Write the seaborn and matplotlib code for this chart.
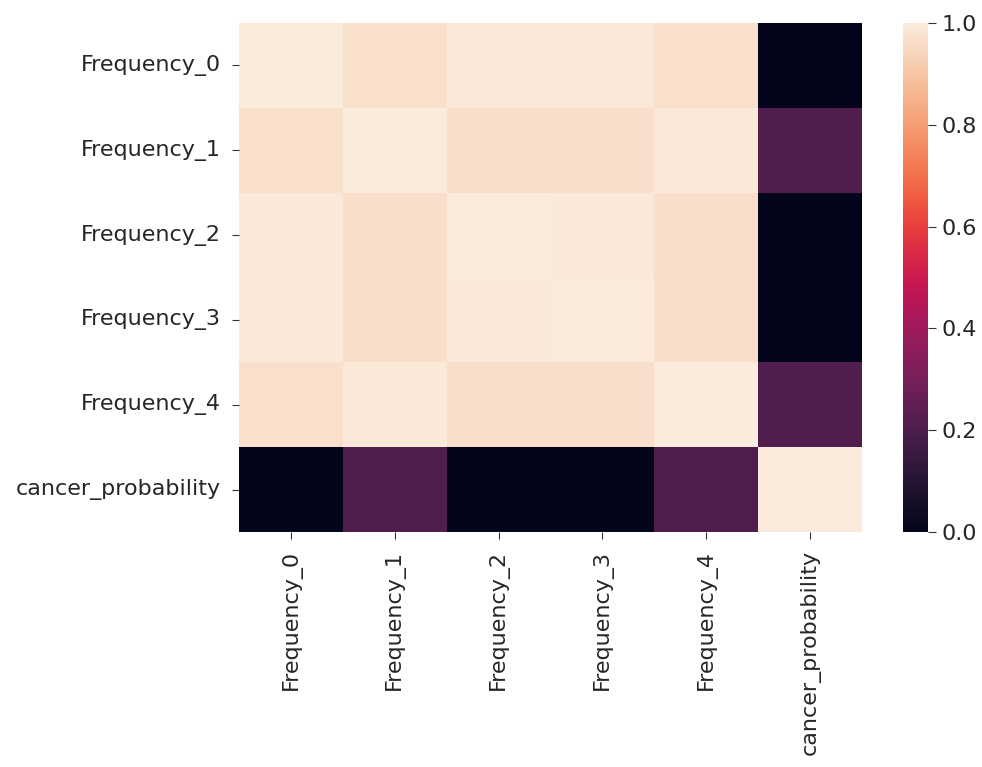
import numpy as np
import pandas as pd
import matplotlib
matplotlib.use("Agg")
import matplotlib.pyplot as plt
import seaborn as sns

labels = ["Frequency_0", "Frequency_1", "Frequency_2", "Frequency_3",
          "Frequency_4", "cancer_probability"]

# correlation matrix rows
row_f0 = [1.000, 0.970, 0.996, 0.990, 0.970, 0.000]
row_f1 = [0.970, 1.000, 0.966, 0.965, 0.991, 0.210]
row_f2 = [0.996, 0.966, 1.000, 0.993, 0.968, 0.001]
row_f3 = [0.990, 0.965, 0.993, 1.000, 0.968, 0.001]
row_f4 = [0.970, 0.991, 0.968, 0.968, 1.000, 0.210]
row_cp = [0.000, 0.210, 0.001, 0.001, 0.210, 1.000]

corr = pd.DataFrame([row_f0, row_f1, row_f2, row_f3, row_f4, row_cp],
                    index=labels, columns=labels)

plt.rcParams["font.family"] = ["DejaVu Sans"]

W, H = 982, 767
fig = plt.figure(figsize=(W / 100, H / 100), dpi=100)
main_box = [239 / W, 1 - 532 / H, (862 - 239) / W, (532 - 23) / H]
cbar_box = [903 / W, 1 - 532 / H, (928 - 903) / W, (532 - 23) / H]
ax = fig.add_axes(main_box)
cax = fig.add_axes(cbar_box)

sns.heatmap(corr, ax=ax, cbar_ax=cax, cmap="rocket", vmin=0.0, vmax=1.0)
ax.set_position(main_box)
cax.set_position(cbar_box)

fs = 16
ax.tick_params(axis="both", labelsize=fs, length=5, pad=8, color="#333333",
               labelcolor="#262626")
ax.set_xticklabels(labels, rotation=90)
ax.set_yticklabels(labels, rotation=0)
cax.tick_params(labelsize=fs, length=6, pad=4, color="#333333",
                labelcolor="#262626")
cax.set_yticks([0.0, 0.2, 0.4, 0.6, 0.8, 1.0])
cax.set_yticklabels(["0.0", "0.2", "0.4", "0.6", "0.8", "1.0"])

fig.savefig("out.png", dpi=100, facecolor="white")
